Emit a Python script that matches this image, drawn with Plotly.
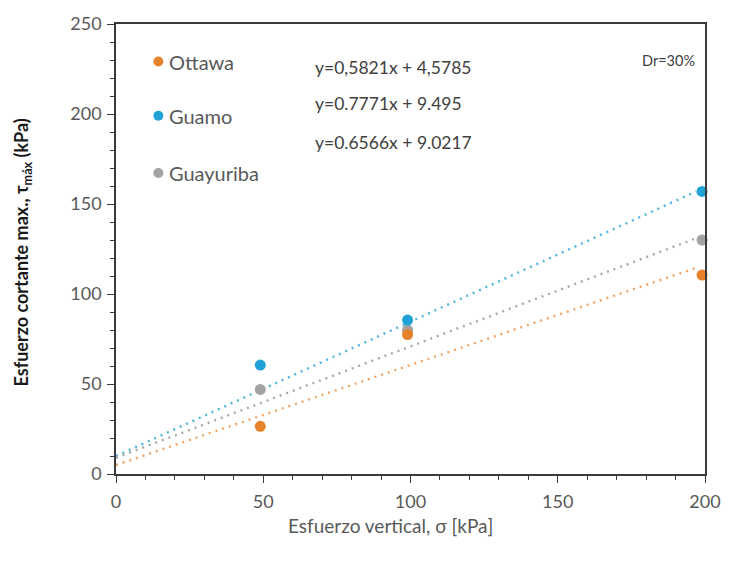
import plotly.graph_objects as go

# ---- data ----
series = ["Ottawa", "Guamo", "Guayuriba"]
x_pts = [49, 99, 199]
ottawa = [26.5, 77.5, 110.5]
guamo = [60.5, 85.5, 157]
guayuriba = [47, 80, 130]

# visible trend-line endpoints (x, y)
trend_x = [0, 197]
trend_ottawa = [5, 114.5]
trend_guamo = [10, 157]
trend_guayuriba = [9, 131]

equations = ["y=0,5821x + 4,5785", "y=0.7771x + 9.495", "y=0.6566x + 9.0217"]
x_ticks = [0, 50, 100, 150, 200]
y_ticks = [0, 50, 100, 150, 200, 250]

FONT = "Lato, Open Sans, sans-serif"
colors = {"Ottawa": "#E6822B", "Guamo": "#21A2D6", "Guayuriba": "#A3A3A3"}
line_colors = {"Ottawa": "#F0A464", "Guamo": "#4FB4DE", "Guayuriba": "#A8A8A8"}

vals = {"Ottawa": ottawa, "Guamo": guamo, "Guayuriba": guayuriba}
trends = {"Ottawa": trend_ottawa, "Guamo": trend_guamo, "Guayuriba": trend_guayuriba}

# pixel geometry of the plot area
L, R, T, B = 116, 714, 18, 474
W, H = 733, 561


def px_x(px):
    return (px - L) / (R - L)


def px_y(py):
    return (B - py) / (B - T)


fig = go.Figure()
for s in series:
    fig.add_trace(go.Scatter(x=trend_x, y=trends[s], mode="lines",
                             line=dict(color=line_colors[s], width=2.4, dash="2px,5px"),
                             showlegend=False, hoverinfo="skip"))

for s in ["Guayuriba", "Guamo", "Ottawa"]:
    fig.add_trace(go.Scatter(x=x_pts, y=vals[s], mode="markers", name=s,
                             marker=dict(color=colors[s], size=11),
                             showlegend=False, cliponaxis=False))

axis_common = dict(
    showline=True, linecolor="#3a3a3a", linewidth=1.6, mirror=True,
    showgrid=False, zeroline=False,
    ticks="outside", ticklen=7, tickwidth=1.4, tickcolor="#3a3a3a",
    tickfont=dict(family=FONT, size=18, color="#595959"),
    ticklabeloverflow="allow",
    minor=dict(dtick=10, ticks="outside", ticklen=4, tickwidth=1.2, tickcolor="#3a3a3a"),
)

fig.update_xaxes(range=[0, 200], tickvals=x_ticks, ticklabelstandoff=4, **axis_common)
fig.update_yaxes(range=[0, 250], tickvals=y_ticks, ticklabelstandoff=2, **axis_common)

annotations = []
shapes = []

# manual legend (dots + names) in the upper-left corner
leg_y = [56, 111, 169]
for s, py in zip(series, leg_y):
    shapes.append(dict(type="circle", xref="paper", yref="paper",
                       xsizemode="pixel", ysizemode="pixel",
                       xanchor=px_x(159), yanchor=px_y(py),
                       x0=-5, x1=5, y0=-5, y1=5,
                       fillcolor=colors[s], line=dict(width=0)))
    annotations.append(dict(x=px_x(168), y=px_y(py), xref="paper", yref="paper",
                            text=s, showarrow=False, xanchor="left", yanchor="middle",
                            font=dict(family=FONT, size=20, color="#595959")))

eq_py = [62, 99, 138]
for eq, py in zip(equations, eq_py):
    annotations.append(dict(x=px_x(316), y=px_y(py), xref="paper", yref="paper",
                            text=eq, showarrow=False, xanchor="left", yanchor="middle",
                            font=dict(family=FONT, size=17.5, color="#404040")))

annotations.append(dict(x=px_x(706), y=px_y(55), xref="paper", yref="paper",
                        text="Dr=30%", showarrow=False, xanchor="right", yanchor="middle",
                        font=dict(family=FONT, size=14.5, color="#404040")))

annotations.append(dict(x=px_x(395), y=px_y(526), xref="paper", yref="paper",
                        text="Esfuerzo vertical, σ [kPa]", showarrow=False,
                        xanchor="center", yanchor="middle",
                        font=dict(family=FONT, size=19, color="#595959")))

annotations.append(dict(x=px_x(22), y=px_y(249), xref="paper", yref="paper",
                        text="<b>Esfuerzo cortante max., τ<sub>máx</sub> (kPa)</b>",
                        showarrow=False, textangle=-90, xanchor="center", yanchor="middle",
                        font=dict(family=FONT, size=18, color="#1a1a1a")))

fig.update_layout(
    width=W, height=H,
    margin=dict(l=L, r=W - R, t=T, b=H - B),
    paper_bgcolor="white", plot_bgcolor="white",
    annotations=annotations, shapes=shapes,
    showlegend=False,
)

fig.write_html("out.html")
